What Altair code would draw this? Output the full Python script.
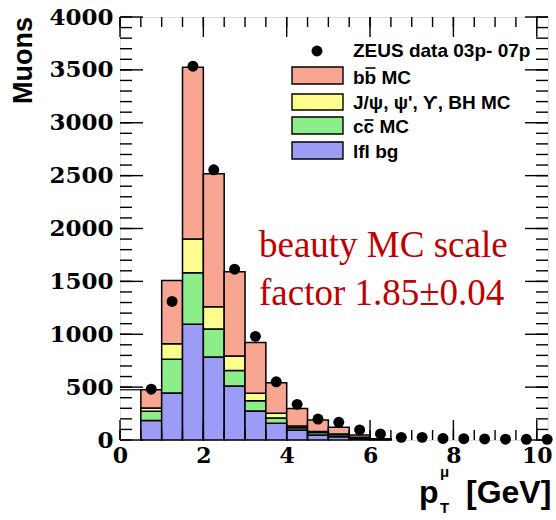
import altair as alt
import pandas as pd

# MC histogram bins in muon pT (GeV)
bin_lo = [0.5, 1.0, 1.5, 2.0, 2.5, 3.0, 3.5, 4.0, 4.5, 5.0, 5.5, 6.0]
bin_hi = [1.0, 1.5, 2.0, 2.5, 3.0, 3.5, 4.0, 4.5, 5.0, 5.5, 6.0, 6.5]

# stacked MC contributions per bin (bottom to top)
lfl_bg = [185, 444, 1095, 784, 510, 275, 158, 95, 47, 31, 12, 4]
ccbar_mc = [86, 319, 486, 266, 148, 95, 50, 22, 23, 19, 8, 2]
jpsi_mc = [32, 147, 319, 211, 136, 72, 44, 15, 10, 7, 5, 2]
bbbar_mc = [172, 598, 1625, 1257, 797, 479, 290, 167, 109, 63, 22, 4]

# ZEUS data points
data_pt = [0.75, 1.25, 1.75, 2.25, 2.75, 3.25, 3.75, 4.25, 4.75, 5.25,
           5.75, 6.25, 6.75, 7.25, 7.75, 8.25, 8.75, 9.25, 9.75, 10.25]
data_n = [480, 1310, 3535, 2555, 1615, 980, 550, 337, 198, 167,
          95, 57, 25, 25, 15, 12, 10, 8, 7, 6]

# axis ticks and labels
x_major = [0, 2, 4, 6, 8, 10]
x_minor = [i * 0.5 for i in range(21)]
y_major = [0, 500, 1000, 1500, 2000, 2500, 3000, 3500, 4000]
y_minor = [i * 100 for i in range(41)]

components = ["lfl", "ccbar", "jpsi", "bbbar"]
comp_colors = ["#9c9cf6", "#8ced8a", "#fdfd8e", "#f8a592"]

W, H = 428, 423

rows = []
for i in range(len(bin_lo)):
    base = 0
    for name, vals in zip(components, [lfl_bg, ccbar_mc, jpsi_mc, bbbar_mc]):
        rows.append({"lo": bin_lo[i], "hi": bin_hi[i], "comp": name,
                     "y0": base, "y1": base + vals[i]})
        base += vals[i]
stack_df = pd.DataFrame(rows)
points_df = pd.DataFrame({"pt": data_pt, "n": data_n})
# total MC of the first bin, continued to the left edge
edge_df = pd.DataFrame({"a": [0.0], "b": [bin_lo[0]],
                        "t": [lfl_bg[0] + ccbar_mc[0] + jpsi_mc[0] + bbbar_mc[0]]})

xs = alt.Scale(domain=[0, 10.27], nice=False, zero=False)
ys = alt.Scale(domain=[0, 4000], nice=False)

tick_font = "DejaVu Serif"
xaxis = alt.Axis(values=x_major, title=None, ticks=False, domain=False, grid=False,
                 labelFont=tick_font, labelFontWeight="bold", labelFontSize=22,
                 labelColor="black", labelPadding=5, format="d", labelFlush=False)
yaxis = alt.Axis(values=y_major, title=None, ticks=False, domain=False, grid=False,
                 labelFont=tick_font, labelFontWeight="bold", labelFontSize=23,
                 labelColor="black", labelPadding=7, format="d")

bars = alt.Chart(stack_df).mark_bar(stroke="black", strokeWidth=1.5, opacity=1).encode(
    x=alt.X("lo:Q", scale=xs, axis=xaxis),
    x2="hi:Q",
    y=alt.Y("y0:Q", scale=ys, axis=yaxis),
    y2="y1:Q",
    color=alt.Color("comp:N", scale=alt.Scale(domain=components, range=comp_colors), legend=None),
)

edge = alt.Chart(edge_df).mark_rule(color="black", strokeWidth=1.2).encode(
    x=alt.X("a:Q", scale=xs, axis=xaxis), x2="b:Q",
    y=alt.Y("t:Q", scale=ys, axis=yaxis),
)

points = alt.Chart(points_df).mark_circle(size=120, color="black", opacity=1).encode(
    x=alt.X("pt:Q", scale=xs, axis=xaxis),
    y=alt.Y("n:Q", scale=ys, axis=yaxis),
)


def xticks(vals, length):
    df = pd.DataFrame({"v": vals})
    base = alt.Chart(df).mark_rule(color="black", strokeWidth=1.4)
    bottom = base.encode(x=alt.X("v:Q", scale=xs, axis=xaxis), y=alt.value(H), y2=alt.value(H - length))
    top = base.encode(x=alt.X("v:Q", scale=xs, axis=xaxis), y=alt.value(0), y2=alt.value(length))
    return [bottom, top]


def yticks(vals, length):
    df = pd.DataFrame({"v": vals})
    base = alt.Chart(df).mark_rule(color="black", strokeWidth=1.4)
    left = base.encode(y=alt.Y("v:Q", scale=ys, axis=yaxis), x=alt.value(0), x2=alt.value(length))
    right = base.encode(y=alt.Y("v:Q", scale=ys, axis=yaxis), x=alt.value(W), x2=alt.value(W - length))
    return [left, right]


one = alt.Data(values=[{}])


def label(text, x, y, size, font="Liberation Sans", weight="bold", color="black",
          align="left", baseline="alphabetic", angle=0):
    return alt.Chart(one).mark_text(
        text=text, font=font, fontWeight=weight, fontSize=size, color=color,
        align=align, baseline=baseline, angle=angle,
    ).encode(x=alt.value(x), y=alt.value(y))


def swatch(x0, x1, y0, y1, fill):
    return alt.Chart(one).mark_rect(fill=fill, stroke="black", strokeWidth=1.4).encode(
        x=alt.value(x0), x2=alt.value(x1), y=alt.value(y0), y2=alt.value(y1))


def bar_over(x0, x1, y):
    return alt.Chart(one).mark_rule(color="black", strokeWidth=1.6).encode(
        x=alt.value(x0), x2=alt.value(x1), y=alt.value(y))


lf = 19
tx = 233
legend = [
    alt.Chart(one).mark_circle(size=120, color="black", opacity=1).encode(
        x=alt.value(197), y=alt.value(34)),
    label("ZEUS data 03p- 07p", tx, 40, lf),
    swatch(172, 223, 50, 67, comp_colors[3]),
    label("bb MC", tx, 67, lf),
    bar_over(tx + 12.5, tx + 22.5, 51),
    swatch(172, 223, 77, 93, comp_colors[2]),
    label("J/\u03c8, \u03c8', \u03d2, BH MC", tx, 92, lf),
    swatch(172, 223, 100, 117, comp_colors[1]),
    label("cc MC", tx, 116, lf),
    bar_over(tx + 11.5, tx + 20.5, 103),
    swatch(172, 223, 125, 142, comp_colors[0]),
    label("lfl bg", tx, 141, lf),
]

annotation = [
    label("beauty MC scale", 139, 240, 37, font="Liberation Serif", weight="normal", color="#c00000"),
    label("factor 1.85\u00b10.04", 139, 288, 37, font="Liberation Serif", weight="normal", color="#c00000"),
]

titles = [
    label("Muons", -88, 0, 27, align="right", baseline="alphabetic", angle=270),
    label("p", 299, H + 63, 32),
    label("\u03bc", 320, H + 37, 15),
    label("T", 320, H + 73, 15),
    label("[GeV]", 346, H + 63, 32),
]

layers = [bars, edge] + xticks(x_minor, 10) + xticks(x_major, 20) \
    + yticks(y_minor, 12) + yticks(y_major, 23) + [points] + legend + annotation + titles

chart = alt.layer(*layers).properties(
    width=W, height=H,
    autosize=alt.AutoSizeParams(type="none"),
    padding={"left": 120, "top": 17, "right": 8, "bottom": 80},
).configure_view(stroke="black", strokeWidth=2).configure(background="white")

chart.save("out.html", embed_options={"renderer": "svg", "actions": False})
